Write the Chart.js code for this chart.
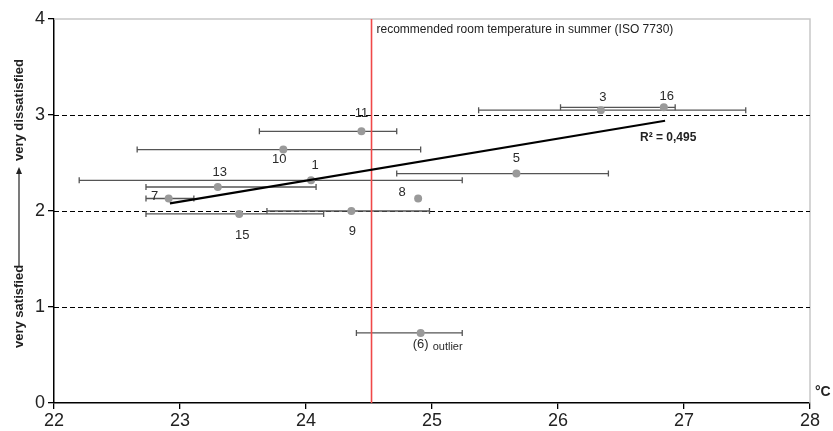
<!DOCTYPE html>
<html>
<head>
<meta charset="utf-8">
<script src="https://cdn.jsdelivr.net/npm/chart.js@4.4.1/dist/chart.umd.min.js"></script>
<style>
html,body{margin:0;padding:0;background:#fff;}
#wrap{width:833px;height:431px;position:relative;}
</style>
</head>
<body>
<div id="wrap"><canvas id="c"></canvas></div>
<script>
// ---- data ----
const pointIds   = ['1','3','5','(6)','7','8','9','10','11','13','15','16'];
const tempMean   = [24.04, 26.34, 25.67, 24.91, 22.91, 24.89, 24.36, 23.82, 24.44, 23.30, 23.47, 26.84];
const rating     = [2.32, 3.05, 2.39, 0.73, 2.13, 2.13, 2.00, 2.64, 2.83, 2.25, 1.97, 3.08];
const tempMin    = [22.20, 25.37, 24.72, 24.40, 22.73, null, 23.69, 22.66, 23.63, 22.73, 22.73, 26.02];
const tempMax    = [25.24, 27.49, 26.40, 25.24, 23.11, null, 24.98, 24.91, 24.72, 24.08, 24.14, 26.93];
const trendX     = [22.92, 26.85];
const trendY     = [2.08, 2.94];
const recommendedTemp = 24.52;
const xTicks = [22, 23, 24, 25, 26, 27, 28];
const yTicks = [0, 1, 2, 3, 4];
const dashedLevels = [1, 2, 3];
const rSquaredText = 'R² = 0,495';
const refLineText = 'recommended room temperature in summer (ISO 7730)';

// label placement (styling, pixel offsets from each point)
const labelOffsets = {
  '1':[4,-15], '3':[2,-13], '5':[0,-15], '(6)':[0,12], '7':[-14,-2], '8':[-16,-6],
  '9':[1,20], '10':[-4,10], '11':[0,-18], '13':[2,-15], '15':[3,22], '16':[3,-11]
};

const FONT = '"Liberation Sans", Arial, Helvetica, sans-serif';

const decor = {
  id: 'decor',
  beforeDatasetsDraw(chart) {
    const {ctx, chartArea: a, scales: {x, y}} = chart;
    ctx.save();
    // top & right light borders
    ctx.strokeStyle = '#c8c8c8';
    ctx.lineWidth = 1.5;
    ctx.beginPath();
    ctx.moveTo(a.left, y.getPixelForValue(4));
    ctx.lineTo(x.getPixelForValue(28), y.getPixelForValue(4));
    ctx.lineTo(x.getPixelForValue(28), y.getPixelForValue(0));
    ctx.stroke();
    // dashed levels
    ctx.strokeStyle = '#000';
    ctx.lineWidth = 1.2;
    ctx.setLineDash([5, 3]);
    dashedLevels.forEach(v => {
      const py = Math.round(y.getPixelForValue(v)) + 0.5;
      ctx.beginPath();
      ctx.moveTo(a.left, py);
      ctx.lineTo(a.right, py);
      ctx.stroke();
    });
    ctx.setLineDash([]);
    // error bars
    ctx.strokeStyle = '#555';
    ctx.lineWidth = 1.3;
    tempMean.forEach((m, i) => {
      if (tempMin[i] == null) return;
      const py = y.getPixelForValue(rating[i]);
      const x1 = x.getPixelForValue(tempMin[i]);
      const x2 = x.getPixelForValue(tempMax[i]);
      ctx.beginPath();
      ctx.moveTo(x1, py); ctx.lineTo(x2, py);
      ctx.moveTo(x1, py - 3); ctx.lineTo(x1, py + 3);
      ctx.moveTo(x2, py - 3); ctx.lineTo(x2, py + 3);
      ctx.stroke();
    });
    // recommended temperature line
    const rx = x.getPixelForValue(recommendedTemp);
    ctx.strokeStyle = '#f04848';
    ctx.lineWidth = 1.6;
    ctx.beginPath();
    ctx.moveTo(rx, a.top); ctx.lineTo(rx, a.bottom);
    ctx.stroke();
    ctx.restore();
  },
  afterDatasetsDraw(chart) {
    const {ctx, scales: {x, y}} = chart;
    ctx.save();
    ctx.fillStyle = '#2a2a2a';
    ctx.textAlign = 'center';
    ctx.textBaseline = 'middle';
    ctx.font = '13px ' + FONT;
    pointIds.forEach((id, i) => {
      const px = x.getPixelForValue(tempMean[i]);
      const py = y.getPixelForValue(rating[i]);
      const off = labelOffsets[id] || [0, -14];
      if (id === '(6)') {
        ctx.font = '13px ' + FONT;
        ctx.fillText(id, px + off[0], py + off[1]);
        ctx.font = '11px ' + FONT;
        ctx.textAlign = 'left';
        ctx.fillText('outlier', px + off[0] + 12, py + off[1] + 2);
        ctx.textAlign = 'center';
        ctx.font = '13px ' + FONT;
      } else {
        ctx.fillText(id, px + off[0], py + off[1]);
      }
    });
    // reference line text
    ctx.textAlign = 'left';
    ctx.font = '12px ' + FONT;
    ctx.fillStyle = '#222';
    ctx.fillText(refLineText, x.getPixelForValue(recommendedTemp) + 5, 30);
    // R squared
    ctx.font = 'bold 12px ' + FONT;
    ctx.fillText(rSquaredText, 640, 138);
    // unit
    ctx.font = 'bold 14px ' + FONT;
    ctx.fillText('°C', 815, 392);
    // y axis title (rotated)
    ctx.translate(19, 0);
    ctx.rotate(-Math.PI / 2);
    ctx.font = 'bold 13px ' + FONT;
    ctx.textAlign = 'left';
    ctx.fillText('very satisfied', -348, 0);
    ctx.fillText('very dissatisfied', -161, 0);
    // arrow
    ctx.strokeStyle = '#222';
    ctx.lineWidth = 1.2;
    ctx.beginPath();
    ctx.moveTo(-266, 0); ctx.lineTo(-172, 0);
    ctx.stroke();
    ctx.beginPath();
    ctx.moveTo(-167, 0); ctx.lineTo(-174, -3); ctx.lineTo(-174, 3); ctx.closePath();
    ctx.fill();
    ctx.restore();
  }
};

new Chart(document.getElementById('c'), {
  type: 'scatter',
  data: {
    datasets: [
      {
        data: tempMean.map((t, i) => ({x: t, y: rating[i]})),
        pointRadius: 4,
        pointHoverRadius: 4,
        backgroundColor: '#9a9a9a',
        borderWidth: 0,
        order: 2
      },
      {
        type: 'line',
        data: trendX.map((t, i) => ({x: t, y: trendY[i]})),
        borderColor: '#000',
        borderWidth: 2.2,
        pointRadius: 0,
        fill: false,
        tension: 0,
        order: 1
      }
    ]
  },
  options: {
    responsive: true,
    maintainAspectRatio: false,
    animation: false,
    layout: {padding: {top: 19, right: 23, left: 0, bottom: 0}},
    plugins: {legend: {display: false}, tooltip: {enabled: false}},
    scales: {
      x: {
        type: 'linear', min: 22, max: 28,
        afterBuildTicks: s => { s.ticks = xTicks.map(v => ({value: v})); },
        afterFit: s => { s.height = 28; },
        grid: {display: true, drawOnChartArea: false, drawTicks: true, tickLength: 6, color: '#000', lineWidth: 1.3},
        border: {display: true, color: '#000', width: 1.5},
        ticks: {font: {size: 18, family: FONT}, color: '#222', padding: 1, maxRotation: 0}
      },
      y: {
        type: 'linear', min: 0, max: 4,
        afterBuildTicks: s => { s.ticks = yTicks.map(v => ({value: v})); },
        afterFit: s => { s.width = 54; },
        grid: {display: true, drawOnChartArea: false, drawTicks: true, tickLength: 6, color: '#000', lineWidth: 1.3},
        border: {display: true, color: '#000', width: 1.5},
        ticks: {font: {size: 18, family: FONT}, color: '#222', padding: 3}
      }
    }
  },
  plugins: [decor]
});
</script>
</body>
</html>
